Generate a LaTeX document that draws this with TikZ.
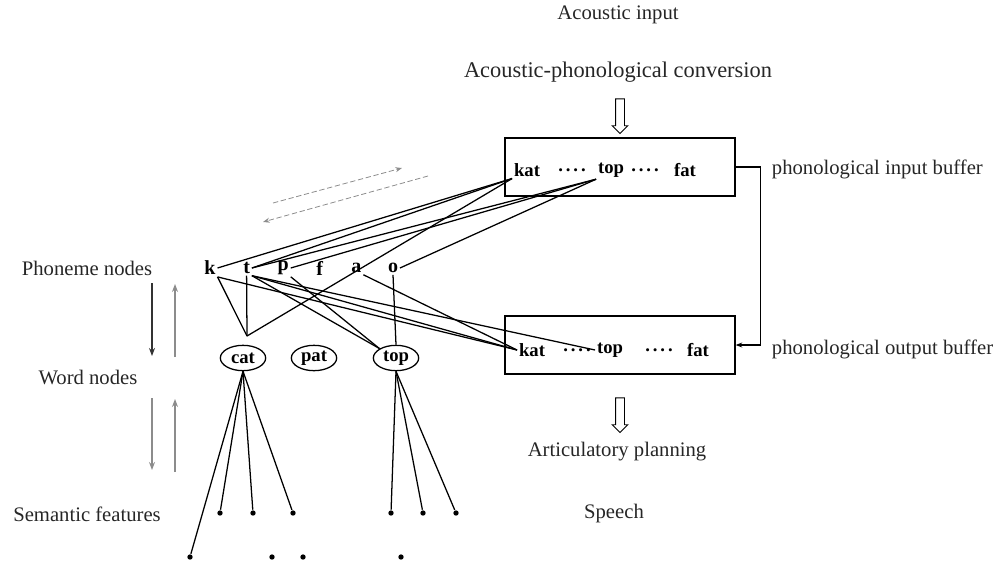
\documentclass[tikz,border=0pt]{standalone}
\usepackage{fontspec}
\setmainfont{Liberation Serif}
\usetikzlibrary{positioning, arrows.meta, shapes.geometric, shapes.arrows}

\newcommand{\gapdots}{.\kern2.2pt.\kern2.2pt.\kern2.2pt.}

\begin{document}
\begin{tikzpicture}[x=0.75pt,y=-0.75pt,>=stealth,line width=0.95pt,node distance=27.45pt]
\tikzstyle{lbl}=[font=\fontsize{15.5}{18}\selectfont,text=black!85,inner sep=1pt]
\tikzstyle{phon}=[font=\bfseries\fontsize{15}{17}\selectfont,inner sep=1pt]
\tikzstyle{item}=[font=\bfseries\fontsize{14}{16}\selectfont,inner sep=1pt]
\tikzstyle{word}=[ellipse,draw,font=\bfseries\fontsize{14}{16}\selectfont,minimum width=34pt,minimum height=19pt,inner sep=0pt]
\tikzstyle{buf}=[draw,minimum width=172.5pt,minimum height=43.5pt]
\tikzstyle{sem}=[circle,fill,inner sep=0pt,minimum size=4pt]
\tikzstyle{hollow}=[single arrow,draw,shape border rotate=270,minimum height=26pt,minimum width=11pt,single arrow head extend=2.5pt,inner sep=3pt,line width=0.7pt]
\tikzstyle{spread}=[dashed,dash pattern=on 4pt off 2pt,black!45,line width=0.6pt,-{Stealth[length=5pt]}]
\tikzstyle{flow}=[-{Stealth[length=5pt]}]

\useasboundingbox (0,0) rectangle (1002,561);

% top of the figure
\node[lbl] (acin) at (618,15) {Acoustic input};
\node[lbl,font=\fontsize{16.8}{19}\selectfont] (conv) at (618,72) {Acoustic-phonological conversion};
\node[hollow] (inarr) at (620,114) {};

% buffers
\node[buf] (inbuf) at (620,167) {};
\node[item] (kin) at (527,170) {kat};
\node[item] (d1) at (572,170) {\gapdots};
\node[item] (topin) at (611,170) {top};
\node[item] (d2) at (645,170) {\gapdots};
\node[item] (fatin) at (685,170) {fat};
\node[lbl, anchor=west] (inlbl) at (770,169) {phonological input buffer};

\node[buf] (outbuf) at (620,345) {};
\node[item] (kout) at (532,350) {kat};
\node[item] (d3) at (577,350) {\gapdots};
\node[item] (topout) at (610,350) {top};
\node[item] (d4) at (659,350) {\gapdots};
\node[item] (fatout) at (698,350) {fat};
\node[lbl, anchor=west] (outlbl) at (770,349) {phonological output buffer};

\draw[flow] (inbuf.east) -- ++(25,0) coordinate (turn) |- (outbuf.east);

\node[hollow] (outarr) at (620,413) {};
\node[lbl] (artic) at (617,452) {Articulatory planning};
\node[lbl] (speech) at (614,514) {Speech};

% left column
\node[lbl] (phlbl) at (87,268) {Phoneme nodes};
\node[lbl] (wdlbl) at (88,377) {Word nodes};
\node[lbl] (semlbl) at (87,514) {Semantic features};

\coordinate (a1) at (152,283);
\coordinate (a2) at (152,356);
\coordinate (a3) at (175,357);
\coordinate (a4) at (175,284);
\coordinate (a5) at (152,398);
\coordinate (a6) at (152,470);
\coordinate (a7) at (175,472);
\coordinate (a8) at (175,399);
\draw[-{Stealth[length=6pt]},black!80] (a1) -- (a2);
\draw[-{Stealth[length=6pt]},black!45] (a3) -- (a4);
\draw[-{Stealth[length=6pt]},black!45] (a5) -- (a6);
\draw[-{Stealth[length=6pt]},black!45] (a7) -- (a8);

% spreading activation
\coordinate (s1) at (273,203);
\coordinate (s2) at (402,168);
\coordinate (s3) at (428,176);
\coordinate (s4) at (263,222);
\draw[spread] (s1) -- (s2);
\draw[spread] (s3) -- (s4);

% phoneme nodes
\node[phon] (k) at (210,268) {k};
\node[phon] (t) [right of=k] {t};
\node[phon] (p) [right of=t] {p};
\node[phon] (f) [right of=p] {f};
\node[phon] (a) [right of=f] {a};
\node[phon] (o) [right of=a] {o};

% word nodes
\node[word] (cat) at (243,358) {cat};
\node[word] (pat) at (314,358) {pat};
\node[word] (top) at (396,358) {top};
\coordinate (catjoin) at (247,336);

\path
(k.east) edge (kin.south west)
(t.east) edge (kin.south west)
(catjoin) edge (kin.south west)
(t.east) edge (topin.south west)
(p.east) edge (topin.south west)
(o.east) edge (topin.south west)
(k.south east) edge (kout.west)
(t.south east) edge (kout.west)
(a.south east) edge (kout.west)
(t.south east) edge (topout.west)
(t.south east) edge (top.north west)
(p.south east) edge (top.north west)
(o.south) edge (top.north)
(k.south east) edge (catjoin)
(t.south) edge (catjoin);

% semantic features
\node[sem] (c1) at (220,513) {};
\node[sem] (c2) at (253,513) {};
\node[sem] (c3) at (293,513) {};
\node[sem] (t1) at (391,513) {};
\node[sem] (t2) at (423,513) {};
\node[sem] (t3) at (456,513) {};
\node[sem] (c4) at (190,557) {};
\node[sem] (c5) at (272,557) {};
\node[sem] (c6) at (303,557) {};
\node[sem] (t4) at (401,557) {};

\path
(cat.south) edge (c4)
(cat.south) edge (c1)
(cat.south) edge (c2)
(cat.south) edge (c3)
(top.south) edge (t1)
(top.south) edge (t2)
(top.south) edge (t3);
\end{tikzpicture}
\end{document}
